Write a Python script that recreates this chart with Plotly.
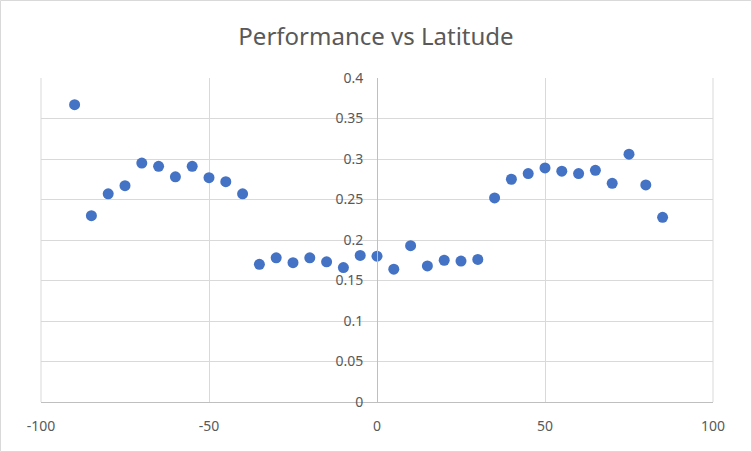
import plotly.graph_objects as go

latitude = [-90, -85, -80, -75, -70, -65, -60, -55, -50, -45, -40, -35, -30, -25, -20, -15,
            -10, -5, 0, 5, 10, 15, 20, 25, 30, 35, 40, 45, 50, 55, 60, 65, 70, 75, 80, 85]
performance = [0.367, 0.230, 0.257, 0.267, 0.295, 0.291, 0.278, 0.291, 0.277, 0.272, 0.257,
               0.170, 0.178, 0.172, 0.178, 0.173, 0.166, 0.181, 0.180, 0.164, 0.193, 0.168,
               0.175, 0.174, 0.176, 0.252, 0.275, 0.282, 0.289, 0.285, 0.282, 0.286, 0.270,
               0.306, 0.268, 0.228]
x_ticks = [-100, -50, 0, 50, 100]
y_ticks = [0, 0.05, 0.1, 0.15, 0.2, 0.25, 0.3, 0.35, 0.4]
y_labels = ["0", "0.05", "0.1", "0.15", "0.2", "0.25", "0.3", "0.35", "0.4"]

font_family = "Noto Sans, Open Sans, sans-serif"
text_color = "#595959"

fig = go.Figure()
fig.add_trace(go.Scatter(
    x=latitude, y=performance, mode="markers",
    marker=dict(color="#4472C4", size=11, line=dict(width=0)),
    showlegend=False,
))

fig.update_layout(
    width=752, height=452,
    margin=dict(l=41, r=39, t=78, b=50),
    paper_bgcolor="white", plot_bgcolor="white",
    font=dict(family=font_family, color=text_color, size=14),
    title=dict(text="Performance vs Latitude", x=0.5, xanchor="center",
               y=1 - 37 / 452, yanchor="middle",
               font=dict(family=font_family, size=24, color=text_color)),
    xaxis=dict(range=[-100, 100], tickvals=x_ticks, ticktext=[str(v) for v in x_ticks],
               showgrid=True, gridcolor="#d9d9d9", gridwidth=1,
               zeroline=False, showline=True, linecolor="#bfbfbf", linewidth=1,
               ticks="", ticklabelstandoff=11, mirror=False,
               tickfont=dict(size=14, color=text_color)),
    yaxis=dict(range=[0, 0.4], tickvals=y_ticks, ticktext=y_labels,
               showgrid=True, gridcolor="#d9d9d9", gridwidth=1,
               zeroline=False, showline=True, linecolor="#bfbfbf", linewidth=1,
               anchor="free", position=0.5, ticks="", ticklabelstandoff=11,
               tickfont=dict(size=14, color=text_color)),
    shapes=[
        dict(type="rect", xref="paper", yref="paper",
             x0=(0.5 - 41) / 672, x1=(751.5 - 41) / 672,
             y0=(402 - 451.5) / 324, y1=(402 - 0.5) / 324,
             line=dict(color="#d9d9d9", width=1), fillcolor="rgba(0,0,0,0)", layer="below"),
        dict(type="line", xref="paper", yref="paper", x0=0, x1=0, y0=0, y1=1,
             line=dict(color="#d9d9d9", width=1), layer="below"),
        dict(type="line", xref="paper", yref="paper", x0=1, x1=1, y0=0, y1=1,
             line=dict(color="#d9d9d9", width=1), layer="below"),
    ],
)

fig.write_html("out.html", config={"displayModeBar": False},
               post_script="document.body.style.margin='0';")
